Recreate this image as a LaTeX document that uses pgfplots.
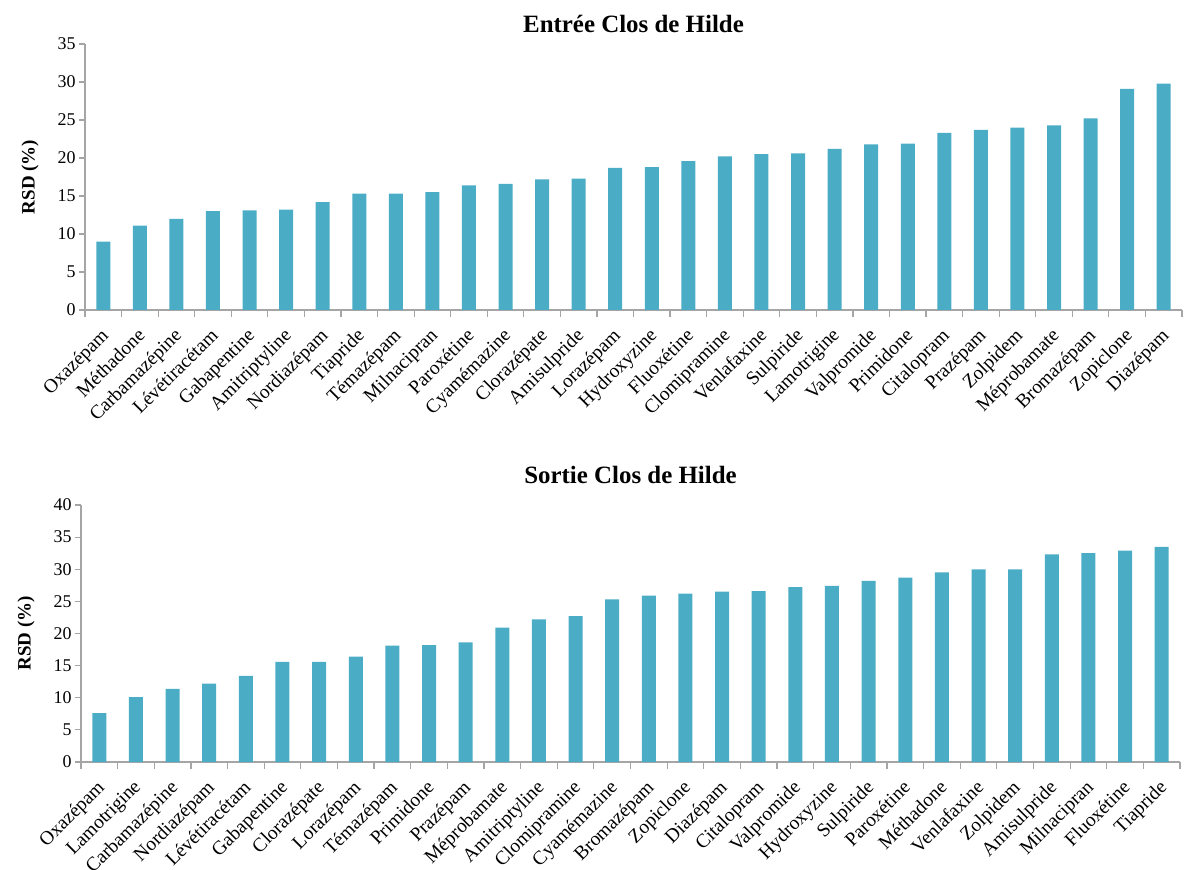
\documentclass[border=0pt]{standalone}
\usepackage{pgfplots}
\pgfplotsset{compat=1.18}
\usepackage{fontspec}
\setmainfont{Liberation Serif}
\definecolor{barc}{RGB}{75,172,198}
\definecolor{axc}{RGB}{165,165,165}
\pgfplotsset{
  rsd/.style={
    scale only axis=true,
    anchor=south west,
    xmin=-0.5, xmax=29.5,
    ymin=0,
    axis x line*=bottom,
    axis y line*=left,
    axis line style={axc, line width=1.2bp},
    every tick/.style={axc, line width=1.2bp},
    tick align=outside,
    xtick={0,...,29},
    major x tick style={draw=none},
    minor xtick={-0.5,0.5,...,29.5},
    minor tick length=7bp,
    major tick length=6bp,
    x tick label style={rotate=45, anchor=north east, font=\fontsize{19.5}{21}\selectfont, inner sep=1bp, yshift=-4bp, xshift=-9bp},
    y tick label style={font=\fontsize{18}{20}\selectfont},
    /pgf/number format/assume math mode=true,
    ylabel={RSD (\%)},
    ylabel style={font=\bfseries\fontsize{19}{21}\selectfont, yshift=12bp},
    title style={font=\bfseries\fontsize{25}{27}\selectfont},
    clip=false,
  }
}
\begin{document}
\begin{tikzpicture}
\useasboundingbox (0,0) rectangle (1184bp,870bp);
\begin{axis}[rsd,
  at={(85bp,560bp)}, width=1097bp, height=266bp,
  ymax=35, ytick={0,5,...,35},
  title={Entrée Clos de Hilde},
  title style={yshift=2bp},
  xticklabels={Oxazépam,Méthadone,Carbamazépine,Lévétiracétam,Gabapentine,Amitriptyline,Nordiazépam,Tiapride,Témazépam,Milnacipran,Paroxétine,Cyamémazine,Clorazépate,Amisulpride,Lorazépam,Hydroxyzine,Fluoxétine,Clomipramine,Venlafaxine,Sulpiride,Lamotrigine,Valpromide,Primidone,Citalopram,Prazépam,Zolpidem,Méprobamate,Bromazépam,Zopiclone,Diazépam},
]
\addplot[ybar, bar width=14bp, fill=barc, draw=none] coordinates {
(0,9.0) (1,11.1) (2,12.0) (3,13.0) (4,13.1) (5,13.2) (6,14.2) (7,15.3) (8,15.3) (9,15.5)
(10,16.4) (11,16.6) (12,17.2) (13,17.3) (14,18.7) (15,18.8) (16,19.6) (17,20.2) (18,20.5) (19,20.6)
(20,21.2) (21,21.8) (22,21.9) (23,23.3) (24,23.7) (25,24.0) (26,24.3) (27,25.2) (28,29.1) (29,29.8)
};
\end{axis}
\begin{axis}[rsd,
  at={(81bp,108bp)}, width=1099bp, height=257bp,
  ymax=40, ytick={0,5,...,40},
  title={Sortie Clos de Hilde},
  title style={yshift=12bp},
  xticklabels={Oxazépam,Lamotrigine,Carbamazépine,Nordiazépam,Lévétiracétam,Gabapentine,Clorazépate,Lorazépam,Témazépam,Primidone,Prazépam,Méprobamate,Amitriptyline,Clomipramine,Cyamémazine,Bromazépam,Zopiclone,Diazépam,Citalopram,Valpromide,Hydroxyzine,Sulpiride,Paroxétine,Méthadone,Venlafaxine,Zolpidem,Amisulpride,Milnacipran,Fluoxétine,Tiapride},
]
\addplot[ybar, bar width=14bp, fill=barc, draw=none] coordinates {
(0,7.6) (1,10.1) (2,11.4) (3,12.2) (4,13.4) (5,15.6) (6,15.6) (7,16.4) (8,18.1) (9,18.2)
(10,18.6) (11,20.9) (12,22.2) (13,22.7) (14,25.3) (15,25.9) (16,26.2) (17,26.5) (18,26.6) (19,27.2)
(20,27.4) (21,28.2) (22,28.7) (23,29.5) (24,30.0) (25,30.0) (26,32.3) (27,32.5) (28,32.9) (29,33.5)
};
\end{axis}
\end{tikzpicture}
\end{document}
